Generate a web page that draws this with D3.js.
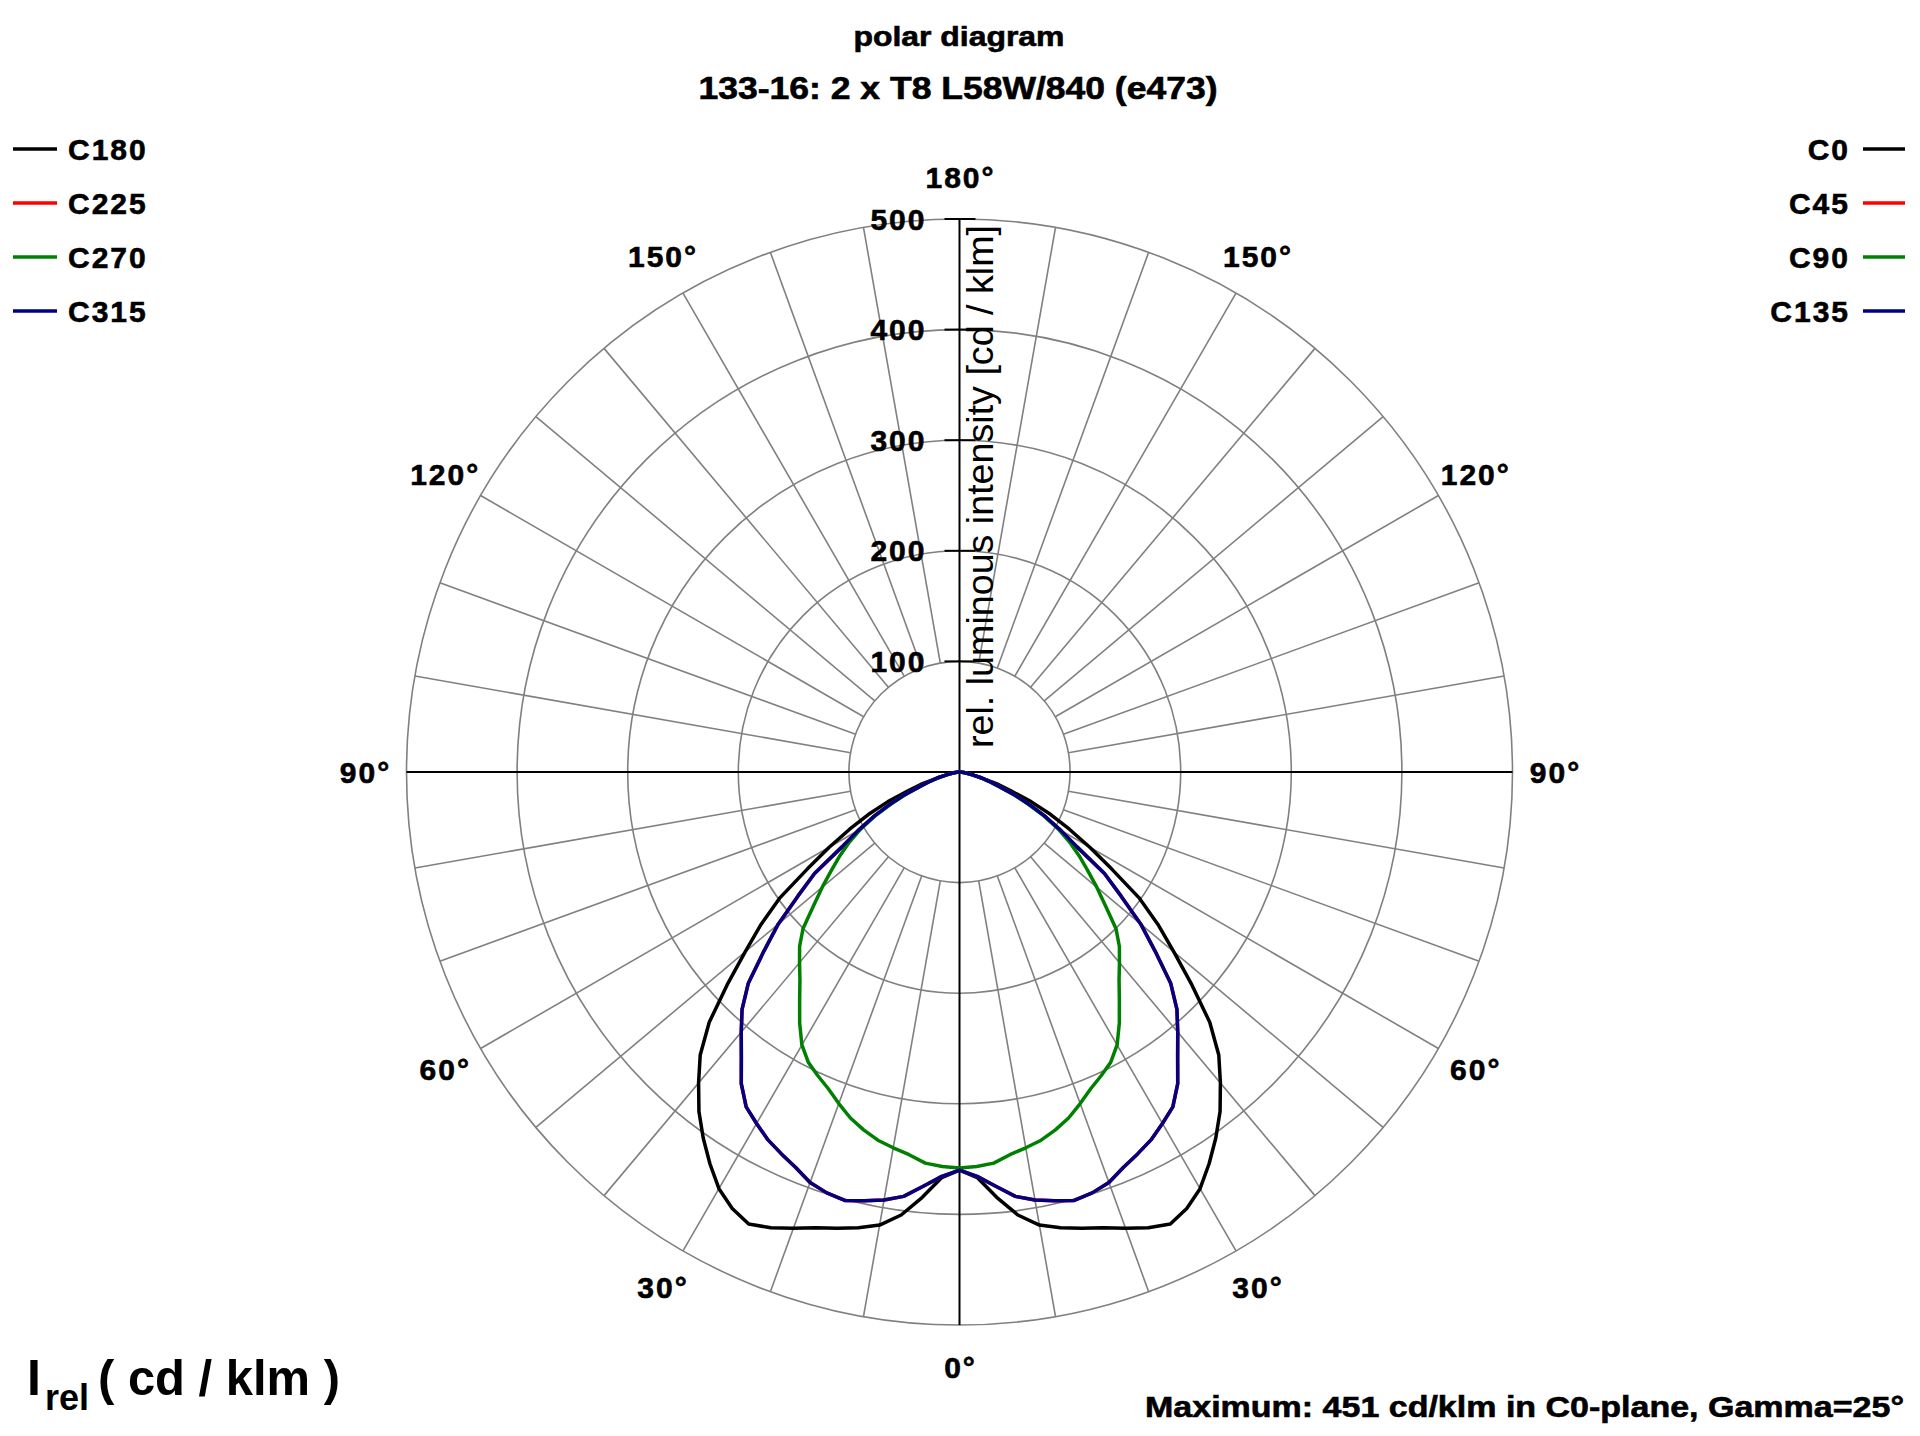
<!DOCTYPE html>
<html>
<head>
<meta charset="utf-8">
<title>polar diagram</title>
<script src="https://cdn.jsdelivr.net/npm/d3@7"></script>
<style>
  body { margin: 0; background: #fff; }
  svg { display: block; }
  text { font-family: "Liberation Sans", Arial, sans-serif; fill: #000; }
  .bold { font-weight: bold; letter-spacing: 2px; stroke: #000; stroke-width: 0.6px; }
</style>
</head>
<body>
<div id="chart"></div>
<script>
// gamma angles (deg, 0 = straight down) and relative intensities (cd/klm)
const gammaAngles = [0, 2.5, 5, 7.5, 10, 12.5, 15, 17.5, 20, 22.5, 25, 27.5, 30, 32.5, 35, 37.5, 40, 42.5, 45,
    47.5, 50, 52.5, 55, 57.5, 60, 62.5, 65, 67.5, 70, 72.5, 75, 77.5, 80, 82.5, 85, 87.5, 90];

const intensityC0 = [360, 367, 386, 404, 416, 422, 427, 432, 439, 446, 451, 445, 435, 420, 404, 387, 367, 347, 320,
    285, 253, 226, 198, 163, 136, 112, 91, 70, 49, 35, 21, 13, 8, 4, 2, 1, 0];
const intensityC45 = [360, 366, 376, 387, 393, 397, 401, 399, 395, 387, 381, 375, 367, 359, 344, 324, 307, 291, 270,
    240, 214, 184, 160, 126, 106, 88, 70, 54, 38, 28, 20, 12, 7, 4, 2, 1, 0];
const intensityC90 = [358, 357, 355, 349, 345, 341, 335, 328, 319, 310, 303, 296, 285, 269, 252, 237, 225, 214, 200,
    179, 162, 146, 132, 118, 103, 86, 68, 52, 37, 27, 19, 11, 6, 4, 2, 1, 0];
const intensityC135 = [360, 366, 376, 387, 393, 397, 401, 399, 395, 387, 381, 375, 367, 359, 344, 324, 307, 291, 270,
    240, 214, 184, 160, 126, 106, 88, 70, 54, 38, 28, 20, 12, 7, 4, 2, 1, 0];
const intensityC180 = [360, 367, 386, 404, 416, 422, 427, 432, 439, 446, 451, 445, 435, 420, 404, 387, 367, 347, 320,
    285, 253, 226, 198, 163, 136, 112, 91, 70, 49, 35, 21, 13, 8, 4, 2, 1, 0];
const intensityC225 = [360, 366, 376, 387, 393, 397, 401, 399, 395, 387, 381, 375, 367, 359, 344, 324, 307, 291, 270,
    240, 214, 184, 160, 126, 106, 88, 70, 54, 38, 28, 20, 12, 7, 4, 2, 1, 0];
const intensityC270 = [358, 357, 355, 349, 345, 341, 335, 328, 319, 310, 303, 296, 285, 269, 252, 237, 225, 214, 200,
    179, 162, 146, 132, 118, 103, 86, 68, 52, 37, 27, 19, 11, 6, 4, 2, 1, 0];
const intensityC315 = [360, 366, 376, 387, 393, 397, 401, 399, 395, 387, 381, 375, 367, 359, 344, 324, 307, 291, 270,
    240, 214, 184, 160, 126, 106, 88, 70, 54, 38, 28, 20, 12, 7, 4, 2, 1, 0];

const rightPlanes = ["C0", "C45", "C90", "C135"];
const leftPlanes = ["C180", "C225", "C270", "C315"];
const radialTicks = [100, 200, 300, 400, 500];
const angleLabels = [0, 30, 60, 90, 120, 150, 180];
const titleLines = ["polar diagram", "133-16: 2 x T8 L58W/840 (e473)"];
const axisTitle = "rel. luminous intensity [cd / klm]";
const maximumNote = "Maximum: 451 cd/klm in C0-plane, Gamma=25\u00b0";

const planeColor = { C0: "#000000", C45: "#ff0000", C90: "#008000", C135: "#000080",
    C180: "#000000", C225: "#ff0000", C270: "#008000", C315: "#000080" };

const planes = [
    { name: "C0", values: intensityC0, side: 1 },
    { name: "C45", values: intensityC45, side: 1 },
    { name: "C90", values: intensityC90, side: 1 },
    { name: "C135", values: intensityC135, side: 1 },
    { name: "C180", values: intensityC180, side: -1 },
    { name: "C225", values: intensityC225, side: -1 },
    { name: "C270", values: intensityC270, side: -1 },
    { name: "C315", values: intensityC315, side: -1 }
];

const W = 1920, H = 1436;
const cx = 959.5, cy = 772;
const outerR = 553;
const labelR = 595;
const gridColor = "#808080";
const toRad = d => d * Math.PI / 180;

const svg = d3.select("#chart").append("svg")
    .attr("width", W)
    .attr("height", H);

const r = d3.scaleLinear().domain([0, 500]).range([0, outerR]);
const plot = svg.append("g").attr("transform", `translate(${cx},${cy})`);

// grid circles
plot.selectAll("circle.grid")
    .data(radialTicks)
    .enter().append("circle")
    .attr("class", "grid")
    .attr("r", d => r(d))
    .attr("fill", "none")
    .attr("stroke", gridColor)
    .attr("stroke-width", 1.6);

// spokes every 10 deg, from the 100 circle outwards
const spokeAngles = d3.range(10, 360, 10).filter(a => a % 90 !== 0);
plot.selectAll("line.spoke")
    .data(spokeAngles)
    .enter().append("line")
    .attr("class", "spoke")
    .attr("x1", a => r(100) * Math.sin(toRad(a)))
    .attr("y1", a => -r(100) * Math.cos(toRad(a)))
    .attr("x2", a => r(500) * Math.sin(toRad(a)))
    .attr("y2", a => -r(500) * Math.cos(toRad(a)))
    .attr("stroke", gridColor)
    .attr("stroke-width", 1.6);

// main axes
plot.append("line")
    .attr("x1", -r(500)).attr("x2", r(500))
    .attr("y1", 0).attr("y2", 0)
    .attr("stroke", "#000").attr("stroke-width", 2);
plot.append("line")
    .attr("x1", 0).attr("x2", 0)
    .attr("y1", -r(500)).attr("y2", r(500))
    .attr("stroke", "#000").attr("stroke-width", 2);

// radial ticks + labels on the upper vertical axis
plot.selectAll("line.tick")
    .data(radialTicks)
    .enter().append("line")
    .attr("class", "tick")
    .attr("x1", -15).attr("x2", 16)
    .attr("y1", d => -r(d)).attr("y2", d => -r(d))
    .attr("stroke", "#000").attr("stroke-width", 2);

plot.selectAll("text.tick")
    .data(radialTicks)
    .enter().append("text")
    .attr("class", "tick bold")
    .attr("x", -33)
    .attr("y", d => -r(d))
    .attr("text-anchor", "end")
    .attr("dominant-baseline", "central")
    .attr("font-size", 30)
    .text(d => d);

// angle labels on both sides
const angleLabelData = [];
angleLabels.forEach(a => {
    angleLabelData.push({ a, side: 1 });
    if (a !== 0 && a !== 180) angleLabelData.push({ a, side: -1 });
});
plot.selectAll("text.angle")
    .data(angleLabelData)
    .enter().append("text")
    .attr("class", "angle bold")
    .attr("x", d => d.side * labelR * Math.sin(toRad(d.a)) + 1)
    .attr("y", d => labelR * Math.cos(toRad(d.a)))
    .attr("text-anchor", "middle")
    .attr("dominant-baseline", "central")
    .attr("font-size", 30)
    .text(d => d.a + "\u00b0");

// vertical axis title
svg.append("text")
    .attr("transform", `translate(${cx + 33},748) rotate(-90)`)
    .attr("font-size", 37.5)
    .attr("textLength", 523)
    .attr("lengthAdjust", "spacingAndGlyphs")
    .text(axisTitle);

// intensity curves
const radial = d3.lineRadial()
    .angle(d => d.side * toRad(180 - d.gamma))
    .radius(d => r(d.value))
    .curve(d3.curveLinear);

plot.selectAll("path.plane")
    .data(planes)
    .enter().append("path")
    .attr("class", "plane")
    .attr("d", p => radial(gammaAngles.map((gm, i) => ({ gamma: gm, value: p.values[i], side: p.side }))))
    .attr("fill", "none")
    .attr("stroke", p => planeColor[p.name])
    .attr("stroke-width", 3.5)
    .attr("stroke-linejoin", "round")
    .attr("stroke-linecap", "round");

// titles
svg.append("text")
    .attr("class", "bold")
    .attr("x", 959).attr("y", 46)
    .attr("text-anchor", "middle")
    .attr("font-size", 28)
    .style("letter-spacing", "0px")
    .attr("textLength", 211)
    .attr("lengthAdjust", "spacingAndGlyphs")
    .text(titleLines[0]);
svg.append("text")
    .attr("class", "bold")
    .attr("x", 958).attr("y", 99)
    .attr("text-anchor", "middle")
    .attr("font-size", 31)
    .style("letter-spacing", "0px")
    .attr("textLength", 519)
    .attr("lengthAdjust", "spacingAndGlyphs")
    .text(titleLines[1]);

// legends
const legendY = [149, 203, 257, 311];
const legLeft = svg.append("g");
leftPlanes.forEach((name, i) => {
    legLeft.append("line")
        .attr("x1", 13).attr("x2", 57)
        .attr("y1", legendY[i]).attr("y2", legendY[i])
        .attr("stroke", planeColor[name]).attr("stroke-width", 3.5);
    legLeft.append("text")
        .attr("class", "bold")
        .attr("x", 68).attr("y", legendY[i])
        .attr("dominant-baseline", "central")
        .attr("font-size", 30)
        .text(name);
});
const legRight = svg.append("g");
rightPlanes.forEach((name, i) => {
    legRight.append("line")
        .attr("x1", 1863).attr("x2", 1905)
        .attr("y1", legendY[i]).attr("y2", legendY[i])
        .attr("stroke", planeColor[name]).attr("stroke-width", 3.5);
    legRight.append("text")
        .attr("class", "bold")
        .attr("x", 1850).attr("y", legendY[i])
        .attr("text-anchor", "end")
        .attr("dominant-baseline", "central")
        .attr("font-size", 30)
        .text(name);
});

// unit label bottom left
const unit = svg.append("text")
    .attr("font-weight", "bold")
    .attr("y", 1395);
unit.append("tspan").attr("x", 27).attr("font-size", 50).text("I");
unit.append("tspan").attr("x", 45).attr("y", 1410).attr("font-size", 36).text("rel");
unit.append("tspan").attr("x", 98).attr("y", 1395).attr("font-size", 50)
    .attr("textLength", 242).attr("lengthAdjust", "spacingAndGlyphs")
    .text("( cd / klm )");

// maximum note bottom right
svg.append("text")
    .attr("class", "bold")
    .attr("x", 1904).attr("y", 1417)
    .attr("text-anchor", "end")
    .attr("font-size", 30)
    .style("letter-spacing", "0px")
    .attr("textLength", 759)
    .attr("lengthAdjust", "spacingAndGlyphs")
    .text(maximumNote);
</script>
</body>
</html>
